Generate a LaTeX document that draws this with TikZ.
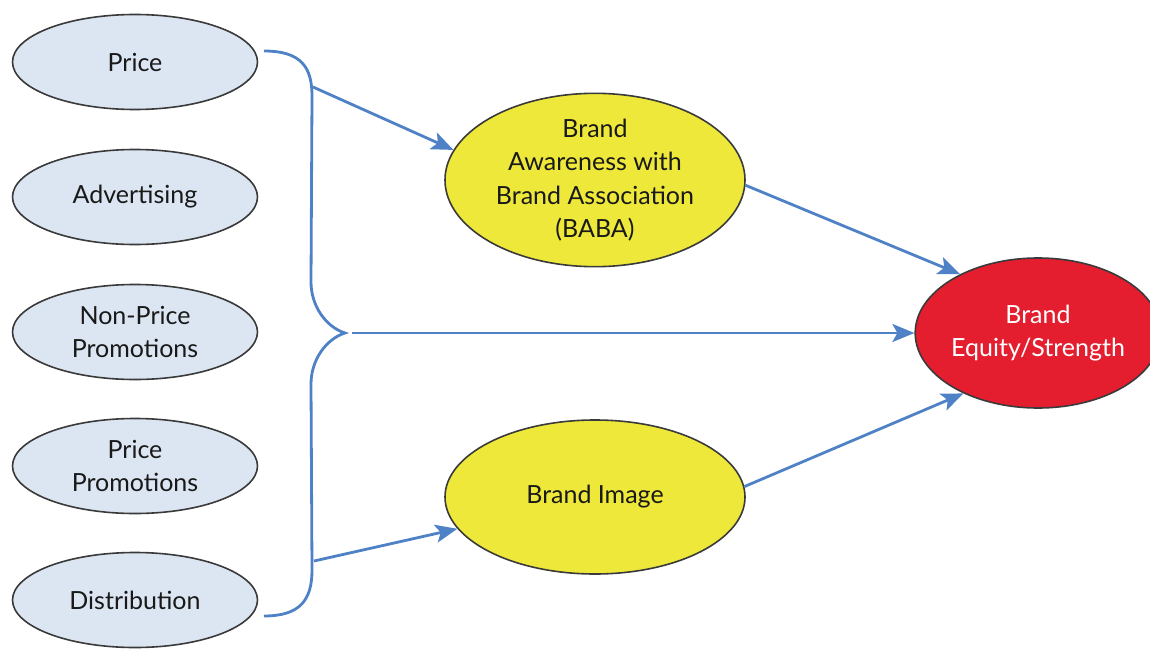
\documentclass[tikz,border=0pt]{standalone}
\usepackage{fontspec}
\setmainfont{Lato}
\usepackage{tikz}
\usetikzlibrary{arrows.meta,shapes.geometric}

\definecolor{srcfill}{HTML}{DCE6F2}
\definecolor{edgegray}{HTML}{3A3A3A}
\definecolor{midyellow}{HTML}{EEE83A}
\definecolor{goalred}{HTML}{E41E2F}
\definecolor{linkblue}{HTML}{4F81C6}

\begin{document}
\begin{tikzpicture}[
  x=1pt,
  y=-1pt,
  font=\fontsize{25}{33.5}\selectfont,
  src/.style={ellipse,draw=edgegray,line width=1.6pt,fill=srcfill,inner sep=0pt,
    minimum width=245pt,minimum height=95pt,align=center,text=black!90},
  mid/.style={ellipse,draw=edgegray,line width=1.6pt,fill=midyellow,inner sep=0pt,
    minimum width=300pt,minimum height=154pt,align=center,text=black!90},
  goal/.style={ellipse,draw=edgegray,line width=1.6pt,fill=goalred,inner sep=0pt,
    minimum width=230pt,minimum height=150pt,align=center,text=white},
  link/.style={draw=linkblue,line width=2.8pt,-{Stealth[length=22pt,width=18pt,inset=5pt]}},
  bracket/.style={draw=linkblue,line width=2.8pt}
]
  \useasboundingbox (0,0) rectangle (1150,650);

  % drivers on the left
  \node[src] (price) at (135,62) {Price};
  \node[src] (advert) at (135,197) {Advertising};
  \node[src] (nonprice) at (135,332) {Non-Price\\Promotions};
  \node[src] (pricepromo) at (135,466) {Price\\Promotions};
  \node[src] (distrib) at (135,600) {Distribution};

  % intermediate and final outcomes
  \node[mid] (baba) at (595,180) {Brand\\Awareness with\\Brand Association\\(BABA)};
  \node[mid] (image) at (595,497) {Brand Image};
  \node[goal] (equity) at (1038,333) {Brand\\Equity/Strength};

  % curly bracket grouping the drivers
  \coordinate (brtop) at (313,87);
  \coordinate (brmid) at (352,333);
  \coordinate (brbot) at (314,561);
  \draw[bracket] (264,51) .. controls (302,51) and (312,68) .. (312,96)
    -- (311,282) .. controls (311,306) and (326,327) .. (345,333)
    .. controls (326,339) and (311,360) .. (311,384)
    -- (312,570) .. controls (312,600) and (300,616) .. (264,616);

  \draw[link] (brtop) -- (baba.168);
  \draw[link] (brbot) -- (image.193);
  \draw[link] (brmid) -- (equity.west);
  \draw[link] (baba.-2) -- (equity.143);
  \draw[link] (image.4) -- (equity.219);
\end{tikzpicture}
\end{document}
